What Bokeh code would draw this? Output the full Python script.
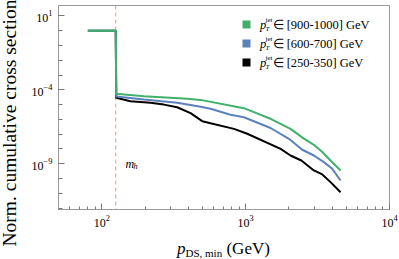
from math import log10
from bokeh.plotting import figure
from bokeh.models import Range1d, FixedTicker, LogTickFormatter, Label, Span, Div
from bokeh.layouts import row, column
from bokeh.embed import file_html
from bokeh.resources import INLINE

# ---------------- data ----------------
green_x = [80, 125, 126, 196, 393, 486, 972, 1490, 2050, 2540, 2980, 3410, 3890, 4570]
green_y = [1, 1, 5.37e-5, 3.72e-5, 2.45e-5, 2.09e-5, 5.75e-6, 1.10e-6, 2.29e-7,
           5.0e-8, 1.91e-8, 6.3e-9, 1.66e-9, 3.55e-10]

blue_x = [80, 125, 126, 196, 334, 486, 570, 785, 972, 1490, 2000, 2475, 2980, 3500, 4000, 4570]
blue_y = [1, 1, 3.55e-5, 2.19e-5, 1.32e-5, 7.1e-6, 5.25e-6, 2.09e-6, 1.41e-6, 2.63e-7,
          4.9e-8, 8.9e-9, 3.63e-9, 1.29e-9, 4.57e-10, 7.4e-11]

black_x = [80, 125, 126, 158, 218, 270, 334, 414, 499, 570, 830, 1026, 1750, 2050, 2440,
           2980, 3410, 3890, 4570]
black_y = [1, 1, 2.88e-5, 1.70e-5, 1.32e-5, 1.0e-5, 6.6e-6, 2.63e-6, 7.6e-7, 5.5e-7, 2.29e-7,
           1.07e-7, 1.02e-8, 3.63e-9, 1.66e-9, 3.55e-10, 1.91e-10, 5.75e-11, 1.2e-11]

series_labels = ["[900-1000] GeV", "[600-700] GeV", "[250-350] GeV"]
series_colors = ["#41b06a", "#5b82bd", "#000000"]

m_h = 125

x_major = [1e2, 1e3, 1e4]
x_minor = [50, 60, 70, 80, 90, 200, 300, 400, 500, 600, 700, 800, 900,
           2000, 3000, 4000, 5000, 6000, 7000, 8000, 9000]
y_major = [1e1, 1e-4, 1e-9]
y_minor = [10.0 ** k for k in range(-12, 2)]

y_title = "Norm. cumulative cross section"

# ---------------- layout (page px) ----------------
W, H = 399, 259
YLAB_W = 22          # strip holding the rotated y title
XLAB_H = 22          # strip holding the x title
PW, PH = W - YLAB_W, H - XLAB_H
FX0, FX1 = 58, 389   # frame left/right in page px
FY0, FY1 = 5, 209    # frame top/bottom in page px
XLO, XHI = 50, 1e4
YLO, YHI = 10 ** -12.09, 10 ** 1.70


def dx(px):
    return 10 ** (log10(XLO) + (px - FX0) / (FX1 - FX0) * (log10(XHI) - log10(XLO)))


def dy(py):
    return 10 ** (log10(YHI) - (py - FY0) / (FY1 - FY0) * (log10(YHI) - log10(YLO)))


p = figure(width=PW, height=PH, x_axis_type="log", y_axis_type="log",
           x_range=Range1d(XLO, XHI), y_range=Range1d(YLO, YHI),
           output_backend="svg", toolbar_location=None,
           min_border_left=FX0 - YLAB_W, min_border_right=W - FX1,
           min_border_top=FY0, min_border_bottom=PH - FY1)
p.background_fill_color = "white"
p.border_fill_color = "white"
p.outline_line_color = "#999999"
p.outline_line_width = 1
p.xgrid.visible = False
p.ygrid.visible = False

FONT = "Liberation Serif"
for ax, maj, mnr in ((p.xaxis, x_major, x_minor), (p.yaxis, y_major, y_minor)):
    ax.ticker = FixedTicker(ticks=maj, minor_ticks=mnr)
    ax.formatter = LogTickFormatter()
    ax.axis_line_color = "#999999"
    ax.major_tick_line_color = "#777777"
    ax.minor_tick_line_color = "#777777"
    ax.major_tick_out = 0
    ax.minor_tick_out = 0
    ax.major_label_text_font = FONT
    ax.major_label_text_font_size = "12px"
    ax.major_label_text_color = "black"
p.xaxis.major_tick_in = 6
p.xaxis.minor_tick_in = 3
p.yaxis.major_tick_in = 6
p.yaxis.minor_tick_in = 4
p.xaxis.major_label_standoff = 5
p.yaxis.major_label_standoff = 6

# m_h marker
p.add_layout(Span(location=m_h, dimension="height", line_color="#e9967a",
                  line_width=1, line_dash="4 3", level="underlay"))

# curves
p.line(black_x, black_y, line_color=series_colors[2], line_width=2)
p.line(blue_x, blue_y, line_color=series_colors[1], line_width=2)
p.line(green_x, green_y, line_color=series_colors[0], line_width=2)


def lab(px, py, text, size, style="normal", align="left", baseline="middle"):
    p.add_layout(Label(x=dx(px), y=dy(py), text=text, text_font=FONT,
                       text_font_size=f"{size}px", text_font_style=style,
                       text_align=align, text_baseline=baseline,
                       text_color="black"))


# legend (manual, to keep sub/superscripts)
rows_y = [24, 43, 62]
p.scatter([dx(246)] * 3, [dy(v) for v in rows_y], marker="square", size=8,
          color=series_colors, line_color=None)
for yc, txt in zip(rows_y, series_labels):
    lab(259.5, yc, "p", 12.5, style="italic")
    lab(265, yc - 5, "jet", 7)
    lab(265, yc + 4, "T", 7, style="italic")
    lab(272, yc, "\u2208 " + txt, 12.5)

# m_h label
lab(125, 163, "m", 12, style="italic")
lab(133, 166, "h", 8, style="italic")

# titles as HTML text strips
ydiv = Div(width=YLAB_W, height=H, margin=0, text=(
    f'<div style="position:relative;width:{YLAB_W}px;height:{H}px;">'
    '<div style="position:absolute;left:10px;top:123px;'
    'transform:translate(-50%,-50%) rotate(-90deg);white-space:nowrap;'
    f"font-family:'{FONT}';font-size:19.5px;line-height:20px;color:black;\">"
    f'{y_title}</div></div>'))

xdiv = Div(width=PW, height=XLAB_H, margin=0, text=(
    f'<div style="position:relative;width:{PW}px;height:{XLAB_H}px;">'
    f'<div style="position:absolute;left:{177 - YLAB_W}px;top:3px;white-space:nowrap;'
    f"font-family:'{FONT}';font-size:17px;line-height:17px;color:black;\">"
    '<i>p</i><span style="font-size:11px;position:relative;top:3px;">DS, min</span>'
    '&nbsp;(GeV)</div></div>'))

layout = row(ydiv, column(p, xdiv, spacing=0), spacing=0)

open("out.html", "w").write(file_html(layout, INLINE))
